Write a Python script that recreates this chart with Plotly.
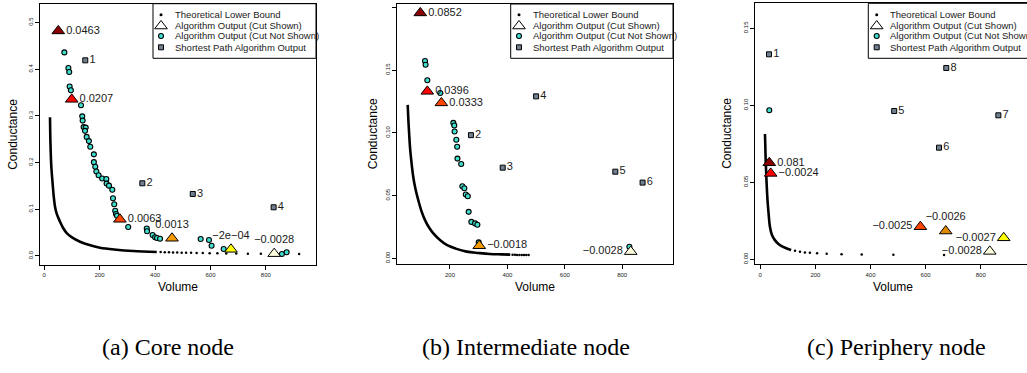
import plotly.graph_objects as go

W, H = 1027, 373

# ---------------- data: panel (a) Core node ----------------
a_lb_vol = [20.6, 21.5, 23, 25.5, 30, 34, 38.6, 45, 56.7, 68, 81, 100, 129, 160, 201, 260, 321, 406]
a_lb_cond = [0.297, 0.26, 0.227, 0.19, 0.156, 0.128, 0.106, 0.09, 0.0735, 0.06, 0.049, 0.04, 0.0306, 0.024, 0.0178, 0.0135, 0.0107, 0.0085]
a_lbdot_vol = [420, 435, 450, 465, 480, 496, 512, 530, 550, 572, 597, 625, 657, 693, 735, 782, 838, 920]
a_lbdot_cond = [0.0083, 0.0080, 0.0078, 0.0076, 0.0073, 0.0071, 0.0069, 0.0067, 0.0065, 0.0063, 0.0060, 0.0058, 0.0055, 0.0052, 0.0049, 0.0047, 0.0045, 0.0042]
a_cut_vol = [72.5, 87, 90, 91.5, 96, 132.5, 137, 138.5, 142, 149.5, 147, 153, 161, 166, 179, 179, 184, 188, 196,
             209, 224, 225, 233.5, 245.5, 248, 252.5, 256, 259, 262.5, 303, 370, 371, 391, 400, 407, 418,
             564.6, 594.6, 604, 647.6, 858, 875]
a_cut_cond = [0.436, 0.4026, 0.394, 0.363, 0.355, 0.3227, 0.299, 0.290, 0.276, 0.275, 0.268, 0.255, 0.246, 0.234,
              0.2177, 0.201, 0.191, 0.181, 0.173, 0.166, 0.165, 0.155, 0.1506, 0.142, 0.1235, 0.1107, 0.097,
              0.090, 0.0863, 0.062, 0.059, 0.053, 0.045, 0.040, 0.0385, 0.037, 0.0364, 0.0343, 0.022, 0.015,
              0.0043, 0.0079]
a_tri_vol = [50.5, 99, 273, 461, 674, 830]
a_tri_cond = [0.482, 0.3355, 0.0786, 0.038, 0.0143, 0.005]
a_tri_label = ["0.0463", "0.0207", "0.0063", "0.0013", "\u22122e\u221204", "\u22120.0028"]
a_tri_pos = ["middle right", "middle right", "middle right", "top center", "top center", "top center"]
a_sp_vol = [148, 354, 536, 828]
a_sp_cond = [0.419, 0.1557, 0.1328, 0.1043]
a_sp_label = ["1", "2", "3", "4"]

# ---------------- data: panel (b) Intermediate node ----------------
b_lb_vol = [52.6, 55, 58, 60.6, 66, 72, 80, 89.5, 100, 113, 127, 142, 165, 188.5, 220, 258, 300, 339, 380, 410]
b_lb_cond = [0.1222, 0.11, 0.098, 0.0886, 0.076, 0.0648, 0.055, 0.0463, 0.038, 0.0304, 0.0245, 0.0198, 0.0145,
             0.0106, 0.0077, 0.0053, 0.0042, 0.0034, 0.0031, 0.0029]
b_lbdot_vol = [418, 426, 434, 442, 450, 458, 466, 474]
b_lbdot_cond = [0.0028, 0.0028, 0.0027, 0.0027, 0.0027, 0.0026, 0.0026, 0.0026]
b_cut_vol = [113, 115, 121, 166, 211.6, 215, 216, 222, 225, 226, 239, 243, 250, 255, 262, 265, 274.5, 287.4, 295.4, 300, 825]
b_cut_cond = [0.1572, 0.1542, 0.1418, 0.1317, 0.1079, 0.1058, 0.101, 0.0944, 0.0889, 0.0794, 0.0751, 0.0574,
              0.0558, 0.0508, 0.0494, 0.037, 0.029, 0.0278, 0.0267, 0.0127, 0.0092]
b_tri_vol = [96.5, 121, 170, 302, 829.6]
b_tri_cond = [0.1955, 0.133, 0.1238, 0.010, 0.0053]
b_tri_label = ["0.0852", "0.0396", "0.0333", "\u22120.0018", "\u22120.0028"]
b_tri_pos = ["middle right", "middle right", "middle right", "middle right", "middle left"]
b_sp_vol = [273, 383.6, 500, 776, 871]
b_sp_cond = [0.0981, 0.0722, 0.129, 0.069, 0.0603]
b_sp_label = ["2", "3", "4", "5", "6"]

# ---------------- data: panel (c) Periphery node ----------------
c_lb_vol = [17, 18, 19, 20, 21, 23, 25, 27, 30, 35, 42, 53, 65, 77.6, 90, 102, 112]
c_lb_cond = [0.0814, 0.075, 0.068, 0.062, 0.058, 0.049, 0.042, 0.0364, 0.03, 0.0212, 0.016, 0.0125, 0.0102,
             0.0086, 0.0075, 0.0067, 0.0061]
c_lbdot_vol = [126, 144, 162, 180, 206, 241, 295, 368, 483, 667]
c_lbdot_cond = [0.0056, 0.005, 0.0045, 0.0043, 0.0039, 0.0036, 0.0034, 0.0032, 0.003, 0.0028]
c_cut_vol = [32.7]
c_cut_cond = [0.0968]
c_tri_vol = [32.7, 37.7, 581, 673, 883.5, 833]
c_tri_cond = [0.0627, 0.0558, 0.0212, 0.0184, 0.014, 0.0052]
c_tri_label = ["0.081", "\u22120.0024", "\u22120.0025", "\u22120.0026", "\u22120.0027", "\u22120.0028"]
c_tri_pos = ["middle right", "middle right", "middle left", "top center", "middle left", "middle left"]
c_sp_vol = [31.6, 486, 648.6, 864, 675]
c_sp_cond = [0.1331, 0.0963, 0.0725, 0.0935, 0.1242]
c_sp_label = ["1", "5", "6", "7", "8"]

a_tri_col = ["#8B0000", "#FF0000", "#FF4500", "#F59B00", "#FFFF00", "#FFFFE0"]
b_tri_col = ["#8B0000", "#FF0000", "#FF4500", "#F59B00", "#FFFFE0"]
c_tri_col = ["#8B0000", "#FF0000", "#FF4500", "#E08A00", "#FFFF00", "#FFFFE0"]

legend_labels = ["Theoretical Lower Bound", "Algorithm Output (Cut Shown)",
                 "Algorithm Output (Cut Not Shown)", "Shortest Path Algorithm Output"]
captions = ["(a) Core node", "(b) Intermediate node", "(c) Periphery node"]

# ---------------- layout geometry (screen pixels) ----------------
panels = [
    dict(box=(40, 316, 3.7, 265), xr=[-15.5, 981], yr=[-0.0193, 0.5403],
         xt=[0, 200, 400, 600, 800], yt=[0, 0.1, 0.2, 0.3, 0.4, 0.5], yfmt="%.1f",
         leg=(153, 8, 20), ytitle_x=13.5, xtitle_x=178, cap_x=168, mirror=True),
    dict(box=(397.3, 673, 4, 264.3), xr=[16.4, 977], yr=[-0.0048, 0.2026],
         xt=[200, 400, 600, 800], yt=[0, 0.05, 0.1, 0.15, 0.2], yfmt="%.2f",
         leg=(510.7, 8.3, 20.3), ytitle_x=373, xtitle_x=535, cap_x=526, mirror=True),
    dict(box=(755, 1027, 3.3, 264.3), xr=[-19.2, 968], yr=[-0.0032, 0.1662],
         xt=[0, 200, 400, 600, 800], yt=[0, 0.05, 0.1, 0.15], yfmt="%.2f",
         leg=(868.3, 8.4, 20), ytitle_x=727, xtitle_x=893, cap_x=896, mirror=False),
]

data = [
    (a_lb_vol, a_lb_cond, a_lbdot_vol, a_lbdot_cond, a_cut_vol, a_cut_cond, a_tri_vol, a_tri_cond,
     a_tri_label, a_tri_pos, a_tri_col, a_sp_vol, a_sp_cond, a_sp_label),
    (b_lb_vol, b_lb_cond, b_lbdot_vol, b_lbdot_cond, b_cut_vol, b_cut_cond, b_tri_vol, b_tri_cond,
     b_tri_label, b_tri_pos, b_tri_col, b_sp_vol, b_sp_cond, b_sp_label),
    (c_lb_vol, c_lb_cond, c_lbdot_vol, c_lbdot_cond, c_cut_vol, c_cut_cond, c_tri_vol, c_tri_cond,
     c_tri_label, c_tri_pos, c_tri_col, c_sp_vol, c_sp_cond, c_sp_label),
]

FONT = "Liberation Sans, Arial, sans-serif"
TXT = dict(family=FONT, size=11, color="#1a1a1a")


def px(x):
    return x / W


def py(y):
    return 1 - y / H


fig = go.Figure()
layout = dict(width=W, height=H, margin=dict(l=0, r=0, t=0, b=0),
              paper_bgcolor="white", plot_bgcolor="rgba(0,0,0,0)", showlegend=False,
              font=dict(family=FONT, color="black"))
annotations = []
shapes = []

for i, (p, d) in enumerate(zip(panels, data)):
    (lbv, lbc, ldv, ldc, cv, cc, tv, tc, tl, tp, tcol, sv, sc, sl) = d
    n = "" if i == 0 else str(i + 1)
    xa, ya = "x" + n, "y" + n
    x0, x1, yt0, yb = p["box"]
    layout["xaxis" + n] = dict(
        domain=[px(x0), px(x1)], range=p["xr"], anchor=ya, tickvals=p["xt"],
        ticktext=[str(v) for v in p["xt"]], ticks="outside", ticklen=4, tickwidth=1,
        tickcolor="black", showline=True, linecolor="black", linewidth=1, mirror=True,
        showgrid=False, zeroline=False, tickfont=dict(family=FONT, size=6, color="#222"))
    layout["yaxis" + n] = dict(
        domain=[py(yb), py(yt0)], range=p["yr"], anchor=xa, tickvals=p["yt"],
        ticktext=[p["yfmt"] % v for v in p["yt"]], ticks="outside", ticklen=4, tickwidth=1,
        tickcolor="black", showline=True, linecolor="black", linewidth=1,
        mirror=p["mirror"], showgrid=False, zeroline=False, tickangle=-90,
        tickfont=dict(family=FONT, size=6, color="#222"))

    # theoretical lower bound: dense part + dotted tail
    fig.add_trace(go.Scatter(x=lbv, y=lbc, mode="lines", xaxis=xa, yaxis=ya,
                             line=dict(color="black", width=2.6, shape="spline"), hoverinfo="skip"))
    fig.add_trace(go.Scatter(x=ldv, y=ldc, mode="markers", xaxis=xa, yaxis=ya,
                             marker=dict(color="black", size=2.5), hoverinfo="skip"))
    # algorithm output (cut not shown)
    fig.add_trace(go.Scatter(x=cv, y=cc, mode="markers", xaxis=xa, yaxis=ya,
                             marker=dict(color="#40E0D0", size=5, line=dict(color="black", width=1.1))))
    # shortest path output
    fig.add_trace(go.Scatter(x=sv, y=sc, mode="markers+text", xaxis=xa, yaxis=ya, text=sl,
                             textposition="middle right", textfont=TXT,
                             marker=dict(symbol="square", color="#708090", size=5,
                                         line=dict(color="black", width=1))))
    # algorithm output (cut shown)
    fig.add_trace(go.Scatter(x=tv, y=tc, mode="markers+text", xaxis=xa, yaxis=ya, text=tl,
                             textposition=tp, textfont=TXT,
                             marker=dict(symbol="triangle-up", color=tcol, size=11,
                                         line=dict(color="black", width=1))))

    # axis titles
    annotations.append(dict(text="Volume", x=px(p["xtitle_x"]),
                            y=py(287), xref="paper", yref="paper", showarrow=False,
                            font=dict(family=FONT, size=12, color="black"),
                            xanchor="center", yanchor="middle"))
    annotations.append(dict(text="Conductance", x=px(p["ytitle_x"]), y=py((yt0 + yb) / 2),
                            xref="paper", yref="paper", showarrow=False, textangle=-90,
                            font=dict(family=FONT, size=12, color="black"),
                            xanchor="center", yanchor="middle"))
    # caption
    annotations.append(dict(text=captions[i], x=px(p["cap_x"]), y=py(347), xref="paper", yref="paper",
                            showarrow=False, xanchor="center", yanchor="middle",
                            font=dict(family="Liberation Serif, serif", size=24, color="black")))

    # legend box
    lx, sym_dx, txt_dx = p["leg"]
    shapes.append(dict(type="rect", xref="paper", yref="paper", x0=px(lx),
                       x1=px(x1) if i < 2 else 1.01,
                       y0=py(58.3), y1=py(yt0), line=dict(color="black", width=1),
                       fillcolor="white", layer="below"))
    rows = [14.7, 25, 36, 47.3]
    for r, lab in zip(rows, legend_labels):
        annotations.append(dict(text=lab, x=px(lx + txt_dx), y=py(r), xref="paper", yref="paper",
                                showarrow=False, xanchor="left", yanchor="middle",
                                font=dict(family=FONT, size=9.5, color="#1a1a1a")))

# legend symbols on an invisible overlay axis measured in screen pixels
layout["xaxis4"] = dict(domain=[0, 1], range=[0, W], visible=False, anchor="y4", fixedrange=True)
layout["yaxis4"] = dict(domain=[0, 1], range=[H, 0], visible=False, anchor="x4", fixedrange=True)
rows = [14.7, 25, 36, 47.3]
for p in panels:
    lx, sym_dx, _ = p["leg"]
    sx = lx + sym_dx
    fig.add_trace(go.Scatter(x=[sx], y=[rows[0]], xaxis="x4", yaxis="y4", mode="markers",
                             marker=dict(color="black", size=3), hoverinfo="skip"))
    fig.add_trace(go.Scatter(x=[sx], y=[rows[1] + 1], xaxis="x4", yaxis="y4", mode="markers",
                             marker=dict(symbol="triangle-up", color="white", size=11,
                                         line=dict(color="black", width=1)), hoverinfo="skip"))
    fig.add_trace(go.Scatter(x=[sx], y=[rows[2]], xaxis="x4", yaxis="y4", mode="markers",
                             marker=dict(color="#40E0D0", size=5, line=dict(color="black", width=1.1)),
                             hoverinfo="skip"))
    fig.add_trace(go.Scatter(x=[sx], y=[rows[3]], xaxis="x4", yaxis="y4", mode="markers",
                             marker=dict(symbol="square", color="#708090", size=5,
                                         line=dict(color="black", width=1)), hoverinfo="skip"))

layout["annotations"] = annotations
layout["shapes"] = shapes
fig.update_layout(**layout)
fig.write_html("out.html", config={"displayModeBar": False},
               post_script="document.body.style.margin='0';")
